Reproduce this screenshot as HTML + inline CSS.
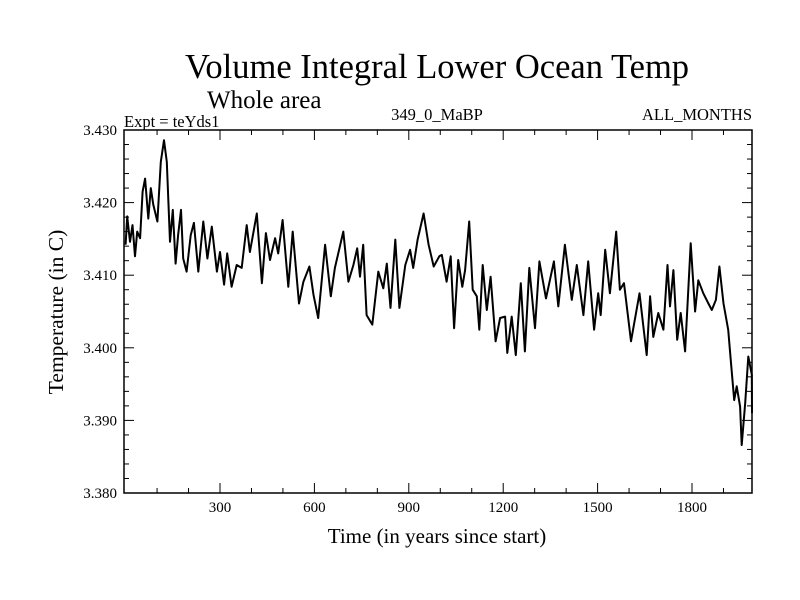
<!DOCTYPE html>
<html><head><meta charset="utf-8"><style>
body{margin:0;background:#fff}
svg{display:block;font-family:"Liberation Serif",serif}
</style></head><body>
<svg id="c" width="800" height="600">
<text x="437" y="78" font-size="34.5" text-anchor="middle">Volume Integral Lower Ocean Temp</text>
<text x="207" y="108" font-size="25">Whole area</text>
<text x="124" y="127" font-size="16.5">Expt = teYds1</text>
<text x="437" y="120" font-size="16.5" text-anchor="middle">349_0_MaBP</text>
<text x="752" y="120" font-size="16.5" text-anchor="end">ALL_MONTHS</text>
<text x="437" y="543" font-size="21" text-anchor="middle">Time (in years since start)</text>
<text transform="translate(63,312) rotate(-90)" font-size="21.5" text-anchor="middle">Temperature (in C)</text>
<g id="ticks"></g>
<path id="line" fill="none" stroke="#000" stroke-width="2" stroke-linejoin="round"/>
<rect x="124" y="130" width="628" height="363" fill="none" stroke="#000" stroke-width="1.5"/>
</svg>
<script>
const years=[0,5,14,22,30,37,46,54,62,72,80,88,101,112,122,131,141,150,159,167,176,183,194,207,217,231,247,260,274,290,300,313,323,337,353,369,385,395,417,433,446,459,475,485,499,517,531,551,565,584,597,612,634,652,665,692,708,724,736,745,755,766,784,803,819,830,842,857,870,889,904,914,928,947,963,979,997,1005,1020,1033,1044,1057,1070,1079,1092,1103,1116,1124,1135,1148,1160,1176,1190,1206,1213,1227,1240,1256,1269,1283,1301,1315,1336,1361,1375,1396,1418,1434,1455,1470,1489,1502,1510,1524,1539,1559,1571,1584,1606,1633,1656,1667,1677,1693,1709,1722,1730,1741,1753,1764,1778,1796,1810,1820,1836,1852,1863,1876,1887,1900,1915,1924,1934,1942,1953,1958,1969,1979,1990,1992];
const temps=[3.4142,3.4181,3.4146,3.4169,3.4126,3.4160,3.4151,3.4215,3.4233,3.4178,3.4220,3.4197,3.4174,3.4256,3.4286,3.4256,3.4146,3.4190,3.4116,3.4155,3.4190,3.4123,3.4105,3.4155,3.4172,3.4105,3.4174,3.4123,3.4167,3.4105,3.4132,3.4087,3.4130,3.4084,3.4114,3.4110,3.4169,3.4132,3.4185,3.4089,3.4158,3.4121,3.4151,3.4130,3.4176,3.4084,3.4160,3.4061,3.4091,3.4112,3.4073,3.4041,3.4142,3.4071,3.4110,3.4160,3.4091,3.4114,3.4137,3.4098,3.4142,3.4045,3.4032,3.4105,3.4082,3.4116,3.4055,3.4149,3.4055,3.4114,3.4135,3.4110,3.4149,3.4185,3.4142,3.4112,3.4126,3.4128,3.4091,3.4126,3.4027,3.4121,3.4084,3.4107,3.4174,3.4080,3.4071,3.4025,3.4114,3.4052,3.4098,3.4009,3.4041,3.4043,3.3993,3.4043,3.3990,3.4089,3.3995,3.4110,3.4027,3.4119,3.4068,3.4119,3.4057,3.4142,3.4066,3.4114,3.4045,3.4119,3.4025,3.4075,3.4045,3.4135,3.4075,3.4160,3.4080,3.4089,3.4009,3.4075,3.3990,3.4071,3.4015,3.4048,3.4025,3.4114,3.4057,3.4107,3.4011,3.4048,3.3995,3.4144,3.4050,3.4093,3.4075,3.4061,3.4052,3.4066,3.4112,3.4061,3.4025,3.3979,3.3928,3.3947,3.3919,3.3866,3.3924,3.3988,3.3963,3.3910];
const xTickLabels=[300,600,900,1200,1500,1800];
const yTickLabels=["3.380","3.390","3.400","3.410","3.420","3.430"];
const X0=124,X1=752,Y0=493,Y1=130,YMIN=3.380,YMAX=3.430;
const xs=v=>125.6+(v)*94.4/300;
const ys=v=>Y0-(v-YMIN)/(YMAX-YMIN)*(Y0-Y1);
const svgNS="http://www.w3.org/2000/svg";
const g=document.getElementById('ticks');
function ln(x1,y1,x2,y2,name){const l=document.createElementNS(svgNS,'line');l.setAttribute('x1',x1);l.setAttribute('y1',y1);l.setAttribute('x2',x2);l.setAttribute('y2',y2);l.setAttribute('stroke','#000');l.setAttribute('stroke-width','1');


g.appendChild(l);}
function tx(x,y,s,anchor,name){const t=document.createElementNS(svgNS,'text');t.setAttribute('x',x);t.setAttribute('y',y);t.setAttribute('font-size','15');t.setAttribute('text-anchor',anchor);t.textContent=s;


g.appendChild(t);}
for(let v=100;v<=1900;v+=100){const x=xs(v);const maj=v%300===0;const L=maj?10:5;
ln(x,Y0,x,Y0-L,'x-tick');ln(x,Y1,x,Y1+L,'x-tick-top');}
xTickLabels.forEach(v=>tx(xs(v),512,String(v),'middle','x-tick-label'));
for(let i=0;i<=25;i++){const v=YMIN+i*0.002;const y=ys(v);const maj=i%5===0;const L=maj?10:5;
ln(X0,y,X0+L,y,'y-tick');ln(X1,y,X1-L,y,'y-tick-right');}
yTickLabels.forEach(s=>tx(117,ys(parseFloat(s))+5,s,'end','y-tick-label'));
let d='';years.forEach((yr,i)=>{d+=(i?'L':'M')+Math.min(X1,Math.max(X0,xs(yr))).toFixed(1)+','+ys(temps[i]).toFixed(1);});
document.getElementById('line').setAttribute('d',d);
</script>
</body></html>
